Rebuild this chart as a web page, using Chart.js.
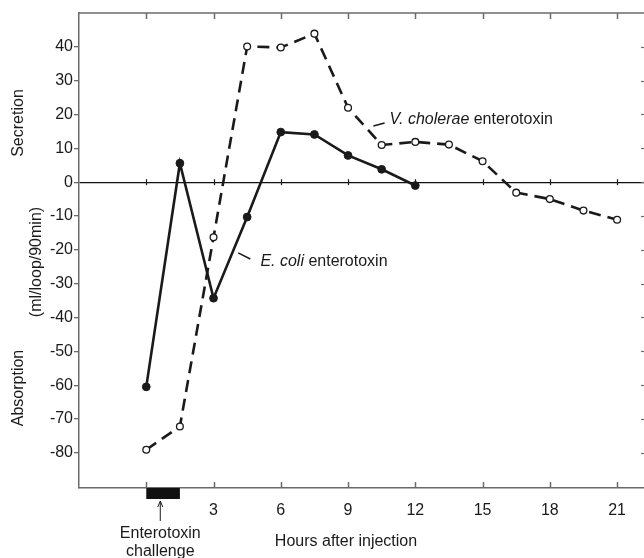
<!DOCTYPE html>
<html>
<head>
<meta charset="utf-8">
<script src="https://cdn.jsdelivr.net/npm/chart.js@4"></script>
<style>
  html, body { margin: 0; padding: 0; background: #ffffff; }
  #wrap { width: 644px; height: 558px; }
</style>
</head>
<body>
<div id="wrap"><canvas id="c" width="644" height="558"></canvas></div>
<script>
// ---- data ----
const ecoliHours   = [0, 1.5, 3, 4.5, 6, 7.5, 9, 10.5, 12];
const ecoliValues  = [-60.5, 5.6, -34.3, -10.3, 14.8, 14.1, 7.9, 3.8, -1.0];
const vcholHours   = [0, 1.5, 3, 4.5, 6, 7.5, 9, 10.5, 12, 13.5, 15, 16.5, 18, 19.5, 21];
const vcholValues  = [-79.1, -72.2, -16.3, 40.1, 39.8, 43.9, 22.0, 11.0, 11.9, 11.1, 6.2, -3.1, -5.0, -8.4, -11.1];
const xTickValues  = [0, 3, 6, 9, 12, 15, 18, 21];
const xTickLabels  = ['', '3', '6', '9', '12', '15', '18', '21'];
const yTickValues  = [-80, -70, -60, -50, -40, -30, -20, -10, 0, 10, 20, 30, 40];
const yTickLabels  = ['-80', '-70', '-60', '-50', '-40', '-30', '-20', '-10', '0', '10', '20', '30', '40'];
const challengeStart = 0;
const challengeEnd   = 1.5;

const FONT = "'Liberation Sans', Arial, sans-serif";
const INK = '#1a1a1a';
const FRAME = '#6b6b6b';

function pts(xs, ys) { return xs.map((x, i) => ({ x: x, y: ys[i] })); }

const extras = {
  id: 'extras',
  afterDraw(chart) {
    const ctx = chart.ctx;
    const xs = chart.scales.x, ys = chart.scales.y;
    const a = chart.chartArea;
    ctx.save();
    // top frame line
    ctx.strokeStyle = FRAME; ctx.lineWidth = 1.5;
    ctx.beginPath(); ctx.moveTo(a.left, a.top); ctx.lineTo(a.right, a.top); ctx.stroke();
    // x ticks: inside at top, inside at bottom, crossing zero line
    const y0 = ys.getPixelForValue(0);
    xTickValues.forEach(v => {
      const px = Math.round(xs.getPixelForValue(v)) + 0.5;
      ctx.strokeStyle = FRAME; ctx.lineWidth = 1.5;
      ctx.beginPath(); ctx.moveTo(px, a.top); ctx.lineTo(px, a.top + 6); ctx.stroke();
      ctx.beginPath(); ctx.moveTo(px, a.bottom); ctx.lineTo(px, a.bottom - 6); ctx.stroke();
      ctx.strokeStyle = INK; ctx.lineWidth = 1.2;
      ctx.beginPath(); ctx.moveTo(px, y0 - 3); ctx.lineTo(px, y0 + 3); ctx.stroke();
    });
    // right-side inner ticks
    ctx.strokeStyle = FRAME; ctx.lineWidth = 1.2;
    yTickValues.forEach(v => {
      const py = Math.round(ys.getPixelForValue(v)) + 0.5;
      ctx.beginPath(); ctx.moveTo(a.right - 3, py); ctx.lineTo(a.right, py); ctx.stroke();
    });

    // enterotoxin challenge bar
    const bx0 = xs.getPixelForValue(challengeStart), bx1 = xs.getPixelForValue(challengeEnd);
    ctx.fillStyle = '#111';
    ctx.fillRect(bx0, a.bottom, bx1 - bx0, 11);
    // arrow
    const ax = xs.getPixelForValue(0.625);
    ctx.strokeStyle = INK; ctx.lineWidth = 1;
    ctx.beginPath(); ctx.moveTo(ax, 521); ctx.lineTo(ax, 502); ctx.stroke();
    ctx.beginPath(); ctx.moveTo(ax - 2.5, 507); ctx.lineTo(ax, 501); ctx.lineTo(ax + 2.5, 507); ctx.stroke();

    ctx.fillStyle = INK;
    ctx.textBaseline = 'middle';
    ctx.textAlign = 'center';
    ctx.font = '16px ' + FONT;
    ctx.fillText('Enterotoxin', ax, 534);
    ctx.fillText('challenge', ax, 552);
    ctx.fillText('Hours after injection', 346, 542);

    // rotated y titles
    function vtext(t, x, y) {
      ctx.save(); ctx.translate(x, y); ctx.rotate(-Math.PI / 2);
      ctx.textAlign = 'center'; ctx.textBaseline = 'middle';
      ctx.fillText(t, 0, 0); ctx.restore();
    }
    vtext('Secretion', 19, 123);
    vtext('(ml/loop/90min)', 37, 262);
    vtext('Absorption', 19, 388);

    // series annotations
    function label(italic, rest, hx, hy) {
      const x = xs.getPixelForValue(hx), y = ys.getPixelForValue(hy);
      ctx.textAlign = 'left'; ctx.textBaseline = 'middle';
      ctx.font = 'italic 16px ' + FONT;
      ctx.fillText(italic, x, y);
      const w = ctx.measureText(italic).width;
      ctx.font = '16px ' + FONT;
      ctx.fillText(rest, x + w, y);
    }
    function leader(h1, v1, h2, v2) {
      ctx.strokeStyle = INK; ctx.lineWidth = 1.5;
      ctx.beginPath();
      ctx.moveTo(xs.getPixelForValue(h1), ys.getPixelForValue(v1));
      ctx.lineTo(xs.getPixelForValue(h2), ys.getPixelForValue(v2));
      ctx.stroke();
    }
    label('V. cholerae', ' enterotoxin', 10.85, 18.4);
    leader(10.13, 16.6, 10.63, 17.5);
    label('E. coli', ' enterotoxin', 5.09, -23.6);
    leader(4.1, -20.9, 4.64, -22.7);
    ctx.restore();
  }
};

new Chart(document.getElementById('c'), {
  type: 'line',
  data: {
    datasets: [
      {
        label: 'V. cholerae enterotoxin',
        data: pts(vcholHours, vcholValues),
        borderColor: INK,
        borderWidth: 2.6,
        borderDash: [12, 7],
        pointRadius: 3.4,
        pointBorderWidth: 1.3,
        pointBackgroundColor: '#ffffff',
        pointBorderColor: INK,
        tension: 0,
        fill: false
      },
      {
        label: 'E. coli enterotoxin',
        data: pts(ecoliHours, ecoliValues),
        borderColor: INK,
        borderWidth: 2.6,
        pointRadius: 3.9,
        pointBorderWidth: 1,
        pointBackgroundColor: INK,
        pointBorderColor: INK,
        tension: 0,
        fill: false
      }
    ]
  },
  options: {
    responsive: false,
    animation: false,
    devicePixelRatio: 1,
    layout: { autoPadding: false, padding: { top: 13, left: 0, right: 0, bottom: 0 } },
    plugins: { legend: { display: false }, tooltip: { enabled: false }, title: { display: false } },
    scales: {
      x: {
        type: 'linear',
        min: -3,
        max: 22.2,
        afterFit: s => { s.height = 70; s.paddingLeft = 0; s.paddingRight = 0; },
        afterBuildTicks: s => { s.ticks = xTickValues.map(v => ({ value: v })); },
        ticks: {
          autoSkip: false, maxRotation: 0, padding: 13,
          color: INK, font: { family: FONT, size: 16 },
          callback: (v) => { const i = xTickValues.indexOf(v); return i >= 0 ? xTickLabels[i] : ''; }
        },
        grid: { drawOnChartArea: false, drawTicks: false },
        border: { display: true, color: FRAME, width: 1.5 }
      },
      y: {
        type: 'linear',
        min: -90.4,
        max: 50,
        afterFit: s => { s.width = 79; s.paddingTop = 0; s.paddingBottom = 0; },
        afterBuildTicks: s => { s.ticks = yTickValues.map(v => ({ value: v })); },
        ticks: {
          autoSkip: false, padding: 1,
          color: INK, font: { family: FONT, size: 16 },
          callback: (v) => { const i = yTickValues.indexOf(v); return i >= 0 ? yTickLabels[i] : ''; }
        },
        grid: {
          drawOnChartArea: true,
          drawTicks: true,
          tickLength: 5,
          tickColor: FRAME,
          lineWidth: 1.3,
          color: (c) => (c.tick && c.tick.value === 0) ? '#111' : 'rgba(0,0,0,0)'
        },
        border: { display: true, color: FRAME, width: 1.5 }
      }
    }
  },
  plugins: [extras]
});
</script>
</body>
</html>
